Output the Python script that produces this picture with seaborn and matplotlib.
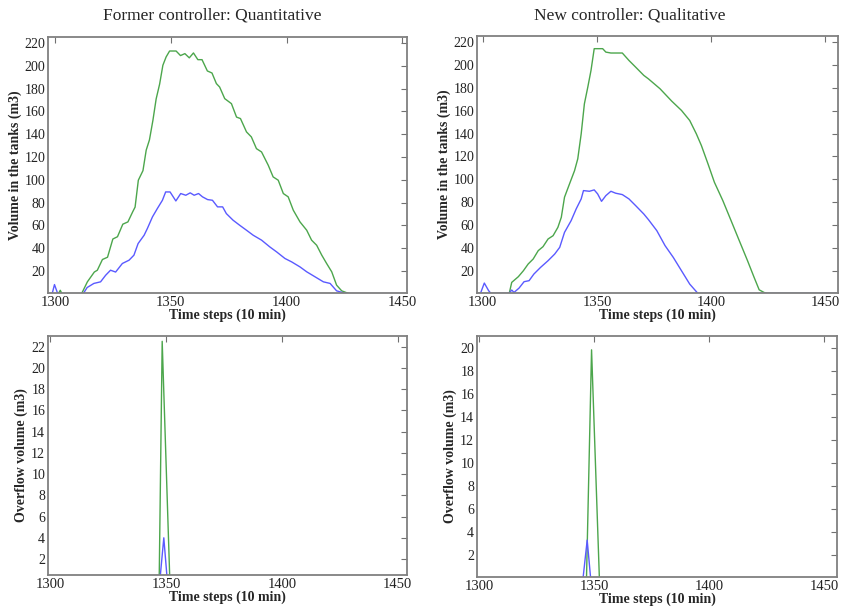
import matplotlib
matplotlib.use("Agg")
import matplotlib.pyplot as plt
import seaborn as sns

# Former controller (quantitative) - tank volumes
old_green_x = [1296, 1301.5, 1302.3, 1303, 1311.5, 1314, 1317, 1318.3, 1320.5, 1322.7, 1325, 1327,
               1329.3, 1331.5, 1333.6, 1334.6, 1336, 1338, 1339.4, 1340.8, 1342.3, 1343.7, 1345.2,
               1346.6, 1348, 1349.5, 1352.3, 1354.2, 1356.1, 1358, 1359.8, 1361.7, 1363.5, 1365.8,
               1367.8, 1369.7, 1371.1, 1373.3, 1376.2, 1378.4, 1380.1, 1382.7, 1384.8, 1387, 1389.2,
               1392.1, 1394.2, 1396.4, 1398.6, 1400.7, 1402.9, 1405.8, 1408.7, 1410.8, 1413, 1415.2,
               1417.3, 1419.5, 1421.6, 1423.8, 1426, 1427, 1453]
old_green_y = [0, 0, 3, 0, 0, 10.4, 19, 20.6, 30, 32, 48, 50,
               61, 63, 72, 76, 99.6, 108, 126, 135, 152.2, 171, 184,
               200.5, 207.8, 213, 213, 209, 210.7, 207, 211.3, 205.4, 205.4, 195.5,
               193.7, 184.4, 181.4, 171.2, 166.8, 155, 153.7, 142, 137.6, 127.3, 124.4,
               112.7, 102.5, 99.6, 87.9, 85, 73.3, 63, 55.7, 47, 42.5, 33.8,
               26.5, 19.2, 7.5, 2.5, 0.8, 0, 0]
old_blue_x = [1296, 1298.8, 1299.8, 1301.2, 1312.2, 1313.9, 1316.8, 1319.7, 1321.9, 1324, 1326.2,
              1329.1, 1332, 1334.1, 1335.9, 1338.5, 1339.9, 1342.1, 1344.2, 1346.4, 1347.8, 1349.7,
              1352.2, 1354.3, 1356.5, 1358.4, 1360.1, 1362, 1363.7, 1365.9, 1368, 1370.2, 1372.4,
              1374, 1376.9, 1379.8, 1382.7, 1385.6, 1389.2, 1392.8, 1395.7, 1399.3, 1402.2, 1405.8,
              1408.7, 1412.3, 1415.9, 1418.8, 1421.6, 1424.5, 1426, 1453]
old_blue_y = [0, 0, 8, 0, 0, 5.4, 9, 10.4, 16.2, 20.6, 19,
              26.5, 29.4, 33.8, 44, 51.3, 57.2, 67.4, 74.7, 82, 89.3, 89.3,
              81.4, 87.9, 86.4, 88.5, 86.4, 87.9, 85, 82.6, 82, 76.2, 76.2,
              70.3, 64.5, 60, 55.7, 51.3, 47, 41, 36.7, 30.9, 27.9, 23.5,
              19.2, 14.8, 10.4, 9, 2.5, 0.8, 0, 0]

# New controller (qualitative) - tank volumes
new_green_x = [1296, 1311.6, 1312.7, 1315.6, 1317.8, 1319.9, 1322.1, 1324.3, 1326.4, 1328.6, 1330.8,
               1332.9, 1334.4, 1335.8, 1338, 1340.2, 1341.6, 1343.1, 1344.5, 1346, 1347.4, 1348.8,
               1352.5, 1353.9, 1356.1, 1361.1, 1364, 1366.9, 1370.5, 1372.5, 1377.6, 1382.7, 1387,
               1390.6, 1393.5, 1395.7, 1398.6, 1401.4, 1405.1, 1408.7, 1412.3, 1415.9, 1418.8, 1421,
               1423.1, 1424.5, 1456]
new_green_y = [0, 0, 9.7, 14.7, 19.9, 25.8, 30.2, 37.5, 41, 47.7, 50.6,
               57.9, 66.7, 84.3, 96, 107.6, 117.9, 139.8, 166.1, 180.8, 195.4, 214.4,
               214.4, 211.4, 210.6, 210.6, 204.1, 198.3, 191, 188, 179.3, 168.5, 160.3,
               151.5, 139.8, 129.6, 113.5, 97.4, 81.3, 63.8, 46.2, 28.7, 14, 3.2,
               0.9, 0, 0]
new_blue_x = [1296, 1299, 1300.7, 1302.6, 1303.6, 1311.5, 1312.7, 1313.7, 1315.9, 1318.1, 1320.3,
              1322.4, 1325.3, 1328.6, 1331.5, 1333.7, 1335.8, 1338.7, 1340.9, 1343.1, 1344.1, 1346.7,
              1348.8, 1350.3, 1352, 1353.9, 1356.1, 1358.2, 1361.1, 1364, 1366.9, 1370.5, 1372.6,
              1376.2, 1379.8, 1383.4, 1387, 1390.6, 1394.2, 1456]
new_blue_y = [0, 0, 9.1, 2.4, 0, 0, 3, 0.9, 4.7, 10.3, 11.2,
              17, 22.8, 28.7, 34.5, 40.4, 53.5, 63.8, 74, 82.8, 90.1, 89.5,
              90.7, 87.2, 80.7, 85.7, 89.5, 87.8, 86.6, 82.8, 77, 69.6, 64.5,
              55, 41.9, 31.6, 19.9, 8.2, 0, 0]

# Overflow volumes
old_over_green_x = [1299, 1347, 1348.3, 1351.6, 1454]
old_over_green_y = [0, 0, 22.5, 0, 0]
old_over_blue_x = [1299, 1347.3, 1349, 1350.5, 1454]
old_over_blue_y = [0, 0, 4, 0, 0]
new_over_green_x = [1299, 1346.6, 1348.8, 1352.2, 1456]
new_over_green_y = [0, 0, 19.8, 0, 0]
new_over_blue_x = [1299, 1345.1, 1346.9, 1348.4, 1456]
new_over_blue_y = [0, 0, 3.3, 0, 0]

x_ticks = [1300, 1350, 1400, 1450]
green = "#4ca64c"
blue = "#5a5aff"

sns.set_style("white")
plt.rcParams["font.family"] = ["Liberation Serif", "DejaVu Serif"]

fig = plt.figure(figsize=(8.41, 6.09), dpi=100)
W, H = 841, 609


def make_ax(l, t, r, b):
    return fig.add_axes([l / W, 1 - b / H, (r - l) / W, (b - t) / H])


ax_tl = make_ax(48, 37, 407, 293)
ax_tr = make_ax(477, 36, 838, 293)
ax_bl = make_ax(48, 336, 407, 575)
ax_br = make_ax(477, 336, 837, 577)

panels = [
    (ax_tl, old_green_x, old_green_y, old_blue_x, old_blue_y, (1297, 1452), (0.6, 225.3),
     list(range(20, 221, 20)), "Volume in the tanks (m3)"),
    (ax_tr, new_green_x, new_green_y, new_blue_x, new_blue_y, (1297.5, 1455.5), (0.4, 225.5),
     list(range(20, 221, 20)), "Volume in the tanks (m3)"),
    (ax_bl, old_over_green_x, old_over_green_y, old_over_blue_x, old_over_blue_y, (1299, 1454),
     (0.5, 23), list(range(2, 23, 2)), "Overflow volume (m3)"),
    (ax_br, new_over_green_x, new_over_green_y, new_over_blue_x, new_over_blue_y, (1299, 1455.5),
     (0.1, 21), list(range(2, 21, 2)), "Overflow volume (m3)"),
]

for ax, gx, gy, bx, by, xl, yl, yt, ylab in panels:
    sns.lineplot(x=gx, y=gy, ax=ax, color=green, linewidth=1.0, estimator=None, sort=False)
    sns.lineplot(x=bx, y=by, ax=ax, color=blue, linewidth=1.0, estimator=None, sort=False)
    ax.set_xlim(*xl)
    ax.set_ylim(*yl)
    ax.set_xticks(x_ticks)
    ax.set_yticks(yt)
    ax.tick_params(axis="both", direction="in", length=4, width=0.8, color="#707070",
                   top=True, right=True, labelcolor="#222222")
    ax.tick_params(axis="x", labelsize=10.5, pad=2)
    ax.tick_params(axis="y", labelsize=10, pad=2)
    for s in ax.spines.values():
        s.set_color("#808080")
        s.set_linewidth(1.3)
    ax.set_xlabel("Time steps (10 min)", fontsize=10, fontweight="bold", labelpad=0)
    ax.set_ylabel(ylab, fontsize=10, fontweight="bold", labelpad=2)

fig.text(212 / W, 1 - 15 / H, "Former controller: Quantitative", fontsize=12.5,
         ha="center", va="center")
fig.text(630 / W, 1 - 15 / H, "New controller: Qualitative", fontsize=12.5,
         ha="center", va="center")

fig.savefig("out.png", dpi=100)
